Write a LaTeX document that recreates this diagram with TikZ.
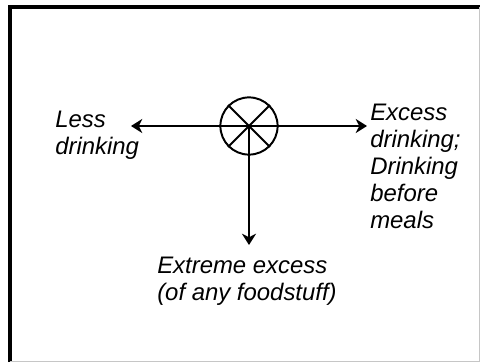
\documentclass[tikz,border=0pt]{standalone}
\usepackage{fontspec}
\setmainfont{Liberation Sans}
\usepackage{tikz}
\usetikzlibrary{arrows.meta}
\usetikzlibrary{positioning}
\tikzstyle{crossvertex}=[circle,draw,line width=1.4pt,minimum size=1.43cm,inner sep=0pt]
\tikzstyle{edge} = [draw,line width=1.4pt,-{Stealth[length=8pt,width=10pt,inset=2.5pt]}]
\tikzstyle{spoke} = [draw,line width=1.4pt]
\tikzstyle{sidetext} = [align=left,inner sep=0pt,anchor=north west,font=\itshape\fontsize{17}{19.2}\selectfont]

\begin{document}
\begin{tikzpicture}[x=0.025cm,y=-0.025cm]
    \useasboundingbox (0,0) rectangle (480,362);

    % frame
    \draw[line width=3.5pt] (10,362) -- (10,7) -- (480,7);
    \draw[gray!45,line width=0.8pt] (479.5,7) -- (479.5,361.5) -- (10,361.5);

    % the crossed circle in the middle
    \node[crossvertex] (C) at (249,126) {};
    \foreach \source/\dest in {45/225, 135/315}
        \path[spoke] (C.\source) -- (C.\dest);

    % arrow ends
    \coordinate (L) at (131,126);
    \coordinate (R) at (367,126);
    \coordinate (D) at (249,245);
    \foreach \dest in {L, R, D}
        \path[edge] (C.center) -- (\dest);

    % texts
    \node[sidetext] (less) at (55,111) {Less\\drinking};
    \node[sidetext] (excess) at (370,104) {Excess\\drinking;\\Drinking\\before\\meals};
    \node[sidetext] (extreme) at (157,257) {Extreme excess\\(of any foodstuff)};
\end{tikzpicture}
\end{document}
